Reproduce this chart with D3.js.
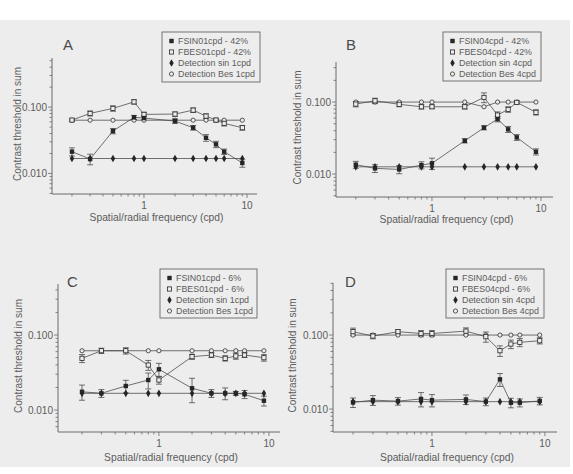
<!DOCTYPE html>
<html>
<head>
<meta charset="utf-8">
<script src="https://cdn.jsdelivr.net/npm/d3@7"></script>
<style>
    body { margin: 0; background: #ffffff; }
    text { font-family: "Liberation Sans", Arial, sans-serif; fill: #5c5c5c; }
</style>
</head>
<body>
<div id="chart"></div>
<script>
// frequencies (cpd) shared by every panel
const freqs = [0.2, 0.3, 0.5, 0.8, 1, 2, 3, 4, 5, 6, 9];
const xTickValues = [1, 10];
const yTickValues = [0.01, 0.1];

// panel A - 1cpd, 42%
const fsinA = [0.0213, 0.0165, 0.0436, 0.070, 0.0684, 0.0616, 0.0489, 0.0345, 0.0275, 0.0213, 0.0144];
const fsinAErr = [0.003, 0.003, 0.004, 0.005, 0.005, 0.005, 0.004, 0.004, 0.003, 0.002, 0.002];
const fbesA = [0.0638, 0.0804, 0.0956, 0.120, 0.0777, 0.0785, 0.090, 0.0732, 0.0638, 0.0569, 0.0489];
const fbesAErr = [0.003, 0.007, 0.009, 0.009, 0.006, 0.006, 0.007, 0.006, 0.004, 0.005, 0.004];
const detSinA = [0.0168, 0.0168, 0.0168, 0.0168, 0.0168, 0.0168, 0.0168, 0.0168, 0.0168, 0.0168, 0.0168];
const detBesA = [0.0635, 0.0635, 0.0635, 0.0635, 0.0635, 0.0635, 0.0635, 0.0635, 0.0635, 0.0635, 0.0635];

// panel B - 4cpd, 42%
const fsinB = [0.0135, 0.0120, 0.0116, 0.0133, 0.0141, 0.029, 0.044, 0.058, 0.0418, 0.0323, 0.0204];
const fsinBErr = [0.0015, 0.0015, 0.0015, 0.0015, 0.0025, 0.002, 0.003, 0.005, 0.004, 0.003, 0.002];
const fbesB = [0.0938, 0.104, 0.093, 0.086, 0.086, 0.086, 0.116, 0.066, 0.079, 0.099, 0.072];
const fbesBErr = [0.008, 0.009, 0.007, 0.006, 0.005, 0.006, 0.018, 0.007, 0.007, 0.005, 0.006];
const detSinB = [0.0126, 0.0126, 0.0126, 0.0126, 0.0126, 0.0126, 0.0126, 0.0126, 0.0126, 0.0126, 0.0126];
const detBesB = [0.100, 0.100, 0.100, 0.100, 0.100, 0.100, 0.086, 0.100, 0.100, 0.100, 0.100];

// panel C - 1cpd, 6%
const fsinC = [0.0175, 0.0167, 0.0209, 0.0251, 0.0349, 0.0195, 0.0167, 0.0167, 0.0167, 0.0162, 0.0133];
const fsinCErr = [0.004, 0.002, 0.004, 0.006, 0.007, 0.007, 0.002, 0.003, 0.001, 0.002, 0.002];
const fbesC = [0.0489, 0.0617, 0.0617, 0.0398, 0.0251, 0.0514, 0.0541, 0.0489, 0.0525, 0.0541, 0.0498];
const fbesCErr = [0.006, 0.005, 0.006, 0.006, 0.003, 0.004, 0.004, 0.004, 0.005, 0.004, 0.005];
const detSinC = [0.0167, 0.0167, 0.0167, 0.0167, 0.0167, 0.0167, 0.0167, 0.0167, 0.0167, 0.0167, 0.0167];
const detBesC = [0.0617, 0.0617, 0.0617, 0.0617, 0.0617, 0.0617, 0.0617, 0.0617, 0.0617, 0.0617, 0.0617];

// panel D - 4cpd, 6%
const fsinD = [0.0123, 0.0132, 0.0128, 0.0137, 0.0132, 0.0135, 0.0126, 0.0252, 0.0122, 0.0122, 0.0129];
const fsinDErr = [0.0018, 0.002, 0.0015, 0.003, 0.0025, 0.002, 0.0015, 0.005, 0.0018, 0.0015, 0.0015];
const fbesD = [0.111, 0.097, 0.111, 0.105, 0.105, 0.113, 0.095, 0.0614, 0.0756, 0.0797, 0.0838];
const fbesDErr = [0.013, 0.008, 0.006, 0.01, 0.01, 0.012, 0.015, 0.01, 0.01, 0.01, 0.008];
const detSinD = [0.0126, 0.0126, 0.0126, 0.0126, 0.0126, 0.0126, 0.0126, 0.0126, 0.0126, 0.0126, 0.0126];
const detBesD = [0.100, 0.100, 0.100, 0.100, 0.100, 0.100, 0.100, 0.100, 0.100, 0.100, 0.100];

const legendA = ['FSIN01cpd - 42%', 'FBES01cpd - 42%', 'Detection sin 1cpd', 'Detection Bes 1cpd'];
const legendB = ['FSIN04cpd - 42%', 'FBES04cpd - 42%', 'Detection sin 4cpd', 'Detection Bes 4cpd'];
const legendC = ['FSIN01cpd - 6%', 'FBES01cpd - 6%', 'Detection sin 1cpd', 'Detection Bes 1cpd'];
const legendD = ['FSIN04cpd - 6%', 'FBES04cpd - 6%', 'Detection sin 4cpd', 'Detection Bes 4cpd'];

const xTitle = 'Spatial/radial frequency (cpd)';
const yTitle = 'Contrast threshold in sum';

const bg = '#ededed';
const ink = '#262626';
const lineColor = '#444';
const axisColor = '#6a6a6a';

// layout of each panel (pixel ranges + log domains)
const panels = [
    { letter: 'A', xr: [52, 257], xd: [0.128, 12.5], yr: [194, 58], yd: [0.0049, 0.55],
      legend: legendA, box: [162, 32, 98, 50], letterPos: [63, 50], yTitleX: 17, xTitleY: 221,
      fsin: fsinA, fsinErr: fsinAErr, fbes: fbesA, fbesErr: fbesAErr, detSin: detSinA, detBes: detBesA },
    { letter: 'B', xr: [336, 553], xd: [0.1316, 12.9], yr: [197, 62], yd: [0.0048, 0.36],
      legend: legendB, box: [443, 32, 98, 49], letterPos: [346, 50], yTitleX: 297, xTitleY: 223,
      fsin: fsinB, fsinErr: fsinBErr, fbes: fbesB, fbesErr: fbesBErr, detSin: detSinB, detBes: detBesB },
    { letter: 'C', xr: [58, 280], xd: [0.121, 12.6], yr: [432, 284], yd: [0.00509, 0.479],
      legend: legendC, box: [160, 269, 97, 49], letterPos: [67, 287], yTitleX: 18, xTitleY: 461,
      fsin: fsinC, fsinErr: fsinCErr, fbes: fbesC, fbesErr: fbesCErr, detSin: detSinC, detBes: detBesC },
    { letter: 'D', xr: [333, 557], xd: [0.133, 12.8], yr: [432, 283], yd: [0.0049, 0.505],
      legend: legendD, box: [446, 269, 98, 49], letterPos: [345, 287], yTitleX: 292, xTitleY: 461,
      fsin: fsinD, fsinErr: fsinDErr, fbes: fbesD, fbesErr: fbesDErr, detSin: detSinD, detBes: detBesD },
];

const svg = d3.select('#chart').append('svg')
    .attr('width', 573).attr('height', 474);

svg.append('rect').attr('x', 0).attr('y', 20).attr('width', 570).attr('height', 447).attr('fill', bg);

function minorValues(domain) {
    var out = [];
    for (var e = -4; e <= 2; e++) {
        for (var k = 1; k <= 9; k++) {
            var v = k * Math.pow(10, e);
            if (v >= domain[0] * 0.999 && v <= domain[1] * 1.001) out.push(+v.toPrecision(3));
        }
    }
    return out;
}

function drawMarker(g, type, x, y) {
    if (type === 'fsin') {
        g.append('rect').attr('x', x - 2.2).attr('y', y - 2.2).attr('width', 4.4).attr('height', 4.4)
            .attr('fill', ink);
    } else if (type === 'fbes') {
        g.append('rect').attr('x', x - 2.1).attr('y', y - 2.1).attr('width', 4.2).attr('height', 4.2)
            .attr('fill', bg).attr('stroke', ink).attr('stroke-width', 0.8);
    } else if (type === 'detSin') {
        g.append('path').attr('d', d3.symbol(d3.symbolDiamond, 17)())
            .attr('transform', 'translate(' + x + ',' + y + ')').attr('fill', ink);
    } else {
        g.append('circle').attr('cx', x).attr('cy', y).attr('r', 2.1)
            .attr('fill', bg).attr('stroke', ink).attr('stroke-width', 0.75);
    }
}

function drawPanel(p) {
    const x = d3.scaleLog().domain(p.xd).range(p.xr);
    const y = d3.scaleLog().domain(p.yd).range(p.yr);
    const g = svg.append('g').attr('class', 'panel');

    // axes
    const yMinor = minorValues(p.yd);
    g.append('line').attr('x1', p.xr[0]).attr('x2', p.xr[0]).attr('y1', p.yr[0]).attr('y2', p.yr[1])
        .attr('stroke', axisColor).attr('stroke-width', 1);
    g.selectAll('line.ytick').data(yMinor).enter().append('line').attr('class', 'ytick')
        .attr('x1', p.xr[0])
        .attr('x2', d => p.xr[0] - (yTickValues.includes(d) ? 4 : 2.5))
        .attr('y1', d => y(d)).attr('y2', d => y(d))
        .attr('stroke', axisColor).attr('stroke-width', 0.8);
    g.selectAll('text.ylab').data(yTickValues).enter().append('text').attr('class', 'ylab')
        .attr('x', p.xr[0] - 5).attr('y', d => y(d)).attr('dy', '0.35em')
        .attr('text-anchor', 'end').attr('font-size', 10)
        .text(d => d3.format('.3f')(d));

    const xMinor = minorValues(p.xd);
    g.append('line').attr('x1', p.xr[0]).attr('x2', p.xr[1]).attr('y1', p.yr[0]).attr('y2', p.yr[0])
        .attr('stroke', axisColor).attr('stroke-width', 1);
    g.selectAll('line.xtick').data(xMinor).enter().append('line').attr('class', 'xtick')
        .attr('x1', d => x(d)).attr('x2', d => x(d))
        .attr('y1', p.yr[0])
        .attr('y2', d => xTickValues.includes(d) ? p.yr[0] + 4 : p.yr[0] + 2.5)
        .attr('stroke', axisColor).attr('stroke-width', 0.8);
    g.selectAll('text.xlab').data(xTickValues).enter().append('text').attr('class', 'xlab')
        .attr('x', d => x(d)).attr('y', p.yr[0] + 15)
        .attr('text-anchor', 'middle').attr('font-size', 10)
        .text(d => d);

    // titles
    g.append('text').attr('x', (p.xr[0] + p.xr[1]) / 2 + 2).attr('y', p.xTitleY)
        .attr('text-anchor', 'middle').attr('font-size', 10.3).text(xTitle);
    g.append('text')
        .attr('transform', 'translate(' + p.yTitleX + ',' + ((p.yr[0] + p.yr[1]) / 2 - 2) + ') rotate(-90)')
        .attr('text-anchor', 'middle').attr('dy', '0.35em').attr('font-size', 10).text(yTitle);
    g.append('text').attr('x', p.letterPos[0]).attr('y', p.letterPos[1])
        .attr('font-size', 15).style('fill', '#4a4a4a').text(p.letter);

    // series
    const series = [
        { type: 'detBes', values: p.detBes },
        { type: 'detSin', values: p.detSin },
        { type: 'fbes', values: p.fbes, err: p.fbesErr },
        { type: 'fsin', values: p.fsin, err: p.fsinErr },
    ];
    const line = d3.line().x(d => x(d[0])).y(d => y(d[1]));

    series.forEach(s => {
        const pts = freqs.map((f, i) => [f, s.values[i]]);
        g.append('path').attr('d', line(pts)).attr('fill', 'none')
            .attr('stroke', lineColor).attr('stroke-width', 0.75);
    });

    series.forEach(s => {
        if (!s.err) return;
        freqs.forEach((f, i) => {
            const cx = x(f);
            const hi = y(s.values[i] + s.err[i]);
            const lo = y(Math.max(s.values[i] - s.err[i], 1e-4));
            g.append('line').attr('x1', cx).attr('x2', cx).attr('y1', hi).attr('y2', lo)
                .attr('stroke', lineColor).attr('stroke-width', 0.75);
            [hi, lo].forEach(v => {
                g.append('line').attr('x1', cx - 3).attr('x2', cx + 3).attr('y1', v).attr('y2', v)
                    .attr('stroke', lineColor).attr('stroke-width', 0.75);
            });
        });
    });

    series.forEach(s => {
        freqs.forEach((f, i) => drawMarker(g, s.type, x(f), y(s.values[i])));
    });

    // legend
    const b = p.box;
    g.append('rect').attr('x', b[0]).attr('y', b[1]).attr('width', b[2]).attr('height', b[3])
        .attr('fill', bg).attr('stroke', '#666').attr('stroke-width', 0.9);
    const legendTypes = ['fsin', 'fbes', 'detSin', 'detBes'];
    p.legend.forEach((label, i) => {
        const ly = b[1] + 9 + i * 11;
        drawMarker(g, legendTypes[i], b[0] + 9.5, ly);
        g.append('text').attr('x', b[0] + 16).attr('y', ly).attr('dy', '0.35em')
            .attr('font-size', 8.9).text(label);
    });
}

panels.forEach(drawPanel);
</script>
</body>
</html>
